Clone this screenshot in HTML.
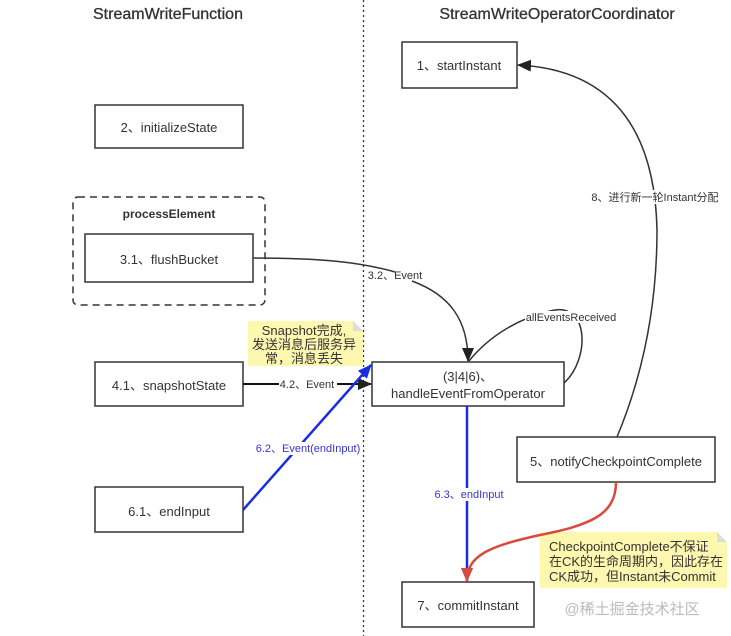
<!DOCTYPE html>
<html><head><meta charset="utf-8"><style>
html,body{margin:0;padding:0;background:#fff;}
svg{display:block;}
text{font-family:"Liberation Sans","Noto Sans CJK SC",sans-serif;}
</style></head><body>
<svg width="731" height="636" viewBox="0 0 731 636" xmlns="http://www.w3.org/2000/svg">
<defs>
<marker id="ak" markerWidth="14" markerHeight="12" refX="13" refY="6" orient="auto" markerUnits="userSpaceOnUse"><path d="M0,0 L14,6 L0,12 Z" fill="#222"/></marker>
<marker id="ab" markerWidth="14" markerHeight="12" refX="13" refY="6" orient="auto" markerUnits="userSpaceOnUse"><path d="M0,0 L14,6 L0,12 Z" fill="#1a2de0"/></marker>
<marker id="ar" markerWidth="14" markerHeight="12" refX="13" refY="6" orient="auto" markerUnits="userSpaceOnUse"><path d="M0,0 L14,6 L0,12 Z" fill="#d94a3a"/></marker>
</defs>
<text x="168" y="19" font-size="16" fill="#333" text-anchor="middle" stroke="#333" stroke-width="0.3">StreamWriteFunction</text>
<text x="557" y="19" font-size="16" fill="#333" text-anchor="middle" stroke="#333" stroke-width="0.3">StreamWriteOperatorCoordinator</text>
<line x1="363.5" y1="0" x2="363.5" y2="636" stroke="#333" stroke-width="1.3" stroke-dasharray="2,3"/>

<rect x="73" y="197" width="192" height="108" rx="5" fill="none" stroke="#333" stroke-width="1.5" stroke-dasharray="7,5"/>
<text x="169" y="218" font-size="12" font-weight="bold" fill="#333" text-anchor="middle">processElement</text>

<g fill="#fff" stroke="#333" stroke-width="1.5">
<rect x="402" y="42" width="115" height="46"/>
<rect x="95" y="105" width="148" height="43"/>
<rect x="85" y="234" width="168" height="48"/>
<rect x="95" y="362" width="148" height="44"/>
<rect x="372" y="362" width="192" height="44"/>
<rect x="517" y="437" width="198" height="45"/>
<rect x="95" y="487" width="148" height="45"/>
<rect x="402" y="582" width="132" height="45"/>
</g>
<g font-size="13" fill="#333" text-anchor="middle">
<text x="459" y="70">1、startInstant</text>
<text x="169" y="132">2、initializeState</text>
<text x="169" y="264">3.1、flushBucket</text>
<text x="169" y="390">4.1、snapshotState</text>
<text x="468" y="381">(3|4|6)、</text>
<text x="468" y="398">handleEventFromOperator</text>
<text x="616" y="466">5、notifyCheckpointComplete</text>
<text x="169" y="516">6.1、endInput</text>
<text x="468" y="610">7、commitInstant</text>
</g>

<!-- notes -->
<path d="M248,321 H353 L363,331 V366 H248 Z" fill="#fdf7b0"/>
<path d="M353,321 L363,331 H353 Z" fill="#ddd"/>
<g font-size="13" fill="#333" text-anchor="middle">
<text x="304" y="335">Snapshot完成,</text>
<text x="304" y="349">发送消息后服务异</text>
<text x="304" y="363">常，消息丢失</text>
</g>
<path d="M540,532 H717 L727,542 V588 H540 Z" fill="#fdf7b0"/>
<path d="M717,532 L727,542 H717 Z" fill="#ddd"/>
<g font-size="13" fill="#333">
<text x="549" y="551">CheckpointComplete不保证</text>
<text x="549" y="566">在CK的生命周期内，因此存在</text>
<text x="549" y="581">CK成功，但Instant未Commit</text>
</g>

<!-- connectors -->
<path d="M253,258 C320,258 360,262 395,272" fill="none" stroke="#333" stroke-width="1.5"/>
<path d="M412,281 C450,295 468,320 468,361" fill="none" stroke="#333" stroke-width="1.5" marker-end="url(#ak)"/>
<text x="395" y="279" font-size="11" fill="#333" text-anchor="middle">3.2、Event</text>
<path d="M469,361 C490,335 520,318 550,311 C590,300 590,360 564,383" fill="none" stroke="#333" stroke-width="1.5"/>
<rect x="525" y="311" width="92" height="12" fill="#fff"/>
<text x="571" y="321" font-size="11" fill="#333" text-anchor="middle">allEventsReceived</text>

<line x1="243" y1="384" x2="371" y2="384" stroke="#111" stroke-width="2" marker-end="url(#ak)"/>
<rect x="279" y="377" width="58" height="13" fill="#fff"/>
<text x="307" y="388" font-size="11" fill="#333" text-anchor="middle">4.2、Event</text>

<line x1="243" y1="510" x2="371" y2="365" stroke="#1a2de0" stroke-width="2.5" marker-end="url(#ab)"/>
<rect x="253" y="442" width="110" height="13" fill="#fff"/>
<text x="308" y="452" font-size="11" fill="#3535d0" text-anchor="middle">6.2、Event(endInput)</text>

<line x1="467" y1="406" x2="467" y2="581" stroke="#1a2de0" stroke-width="2.5" marker-end="url(#ab)"/>
<rect x="432" y="488" width="74" height="13" fill="#fff"/>
<text x="469" y="498" font-size="11" fill="#3535d0" text-anchor="middle">6.3、endInput</text>

<path d="M616,482 C616,515 590,525 540,535 C490,546 467,555 467,581" fill="none" stroke="#d94a3a" stroke-width="2.5" marker-end="url(#ar)"/>

<path d="M617,437 C645,370 657,300 657,230 C655,140 620,70 518,65" fill="none" stroke="#333" stroke-width="1.5" marker-end="url(#ak)"/>
<rect x="590" y="190" width="130" height="14" fill="#fff"/>
<text x="655" y="201" font-size="11" fill="#333" text-anchor="middle">8、进行新一轮Instant分配</text>

<text x="632" y="614" font-size="15" fill="#bbb" text-anchor="middle">@稀土掘金技术社区</text>
</svg>
</body></html>
